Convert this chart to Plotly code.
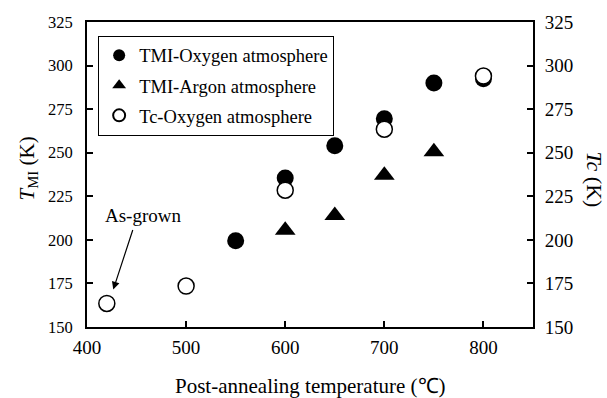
import plotly.graph_objects as go

# Data
tmi_o2_x = [550, 600, 650, 700, 750, 800]
tmi_o2_y = [199.5, 235.5, 254, 269.5, 290, 292.5]
tmi_ar_x = [600, 650, 700, 750]
tmi_ar_y = [205.5, 214, 237, 250.5]
tc_o2_x = [420, 500, 600, 700, 800]
tc_o2_y = [163.5, 173.5, 228.5, 263.5, 294]
x_ticks = [400, 500, 600, 700, 800]
y_ticks = [150, 175, 200, 225, 250, 275, 300, 325]

FONT = "Liberation Serif"

fig = go.Figure()
fig.add_trace(go.Scatter(x=tmi_o2_x, y=tmi_o2_y, mode="markers", name="TMI-Oxygen atmosphere",
                         legendgroup="a",
                         marker=dict(symbol="circle", size=17, color="black")))
fig.add_trace(go.Scatter(x=tmi_ar_x, y=tmi_ar_y, mode="markers", name="TMI-Argon atmosphere",
                         legendgroup="b",
                         marker=dict(symbol="triangle-up", size=18, color="black")))
fig.add_trace(go.Scatter(x=tc_o2_x, y=tc_o2_y, mode="markers", name="Tc-Oxygen atmosphere", yaxis="y2",
                         legendgroup="c",
                         marker=dict(symbol="circle", size=16, color="white", line=dict(color="black", width=1.5))))

def ax(size, standoff):
    return dict(showline=True, linecolor="black", linewidth=2, ticks="inside", ticklen=6,
                tickcolor="black", tickwidth=2, showgrid=False, zeroline=False,
                ticklabelstandoff=standoff,
                tickfont=dict(family=FONT, size=size, color="black"))

fig.update_layout(
    width=607, height=398,
    margin=dict(l=87, r=74, t=13, b=71),
    paper_bgcolor="white", plot_bgcolor="white",
    font=dict(family=FONT, color="black"),
    xaxis=dict(range=[400, 850], tickvals=x_ticks, mirror=True, **ax(19, 2)),
    yaxis=dict(range=[150, 325], tickvals=y_ticks, **ax(16.5, 9)),
    yaxis2=dict(range=[150, 325], tickvals=y_ticks,
                overlaying="y", side="right", **ax(19, 6)),
    showlegend=True,
    legend=dict(x=0.025, y=0.955, xanchor="left", yanchor="top",
                bgcolor="white", bordercolor="black", borderwidth=1,
                font=dict(family=FONT, size=18.5, color="black"),
                itemsizing="constant", tracegroupgap=3, itemwidth=30),
)

fig.add_annotation(text="Post-annealing temperature (℃)", xref="paper", yref="paper",
                   x=0.5, y=0, yshift=-59, showarrow=False, xanchor="center", yanchor="middle",
                   font=dict(family=FONT, size=21, color="black"))
fig.add_annotation(text="<i>T</i><sub>MI</sub> (K)", xref="paper", yref="paper",
                   x=0, xshift=-59, y=0.52, showarrow=False, textangle=-90,
                   xanchor="center", yanchor="middle",
                   font=dict(family=FONT, size=21, color="black"))
fig.add_annotation(text="<i>Tc</i> (K)", xref="paper", yref="paper",
                   x=1, xshift=62, y=0.484, showarrow=False, textangle=90,
                   xanchor="center", yanchor="middle",
                   font=dict(family=FONT, size=22, color="black"))
fig.add_annotation(text="As-grown", x=456, y=214, showarrow=False,
                   xanchor="center", yanchor="middle",
                   font=dict(family=FONT, size=19, color="black"))
fig.add_annotation(text="", x=426.5, y=171.5, ax=20, ay=-61, showarrow=True,
                   arrowhead=2, arrowsize=1.3, arrowwidth=1.2, arrowcolor="black")

fig.write_html("out.html")
